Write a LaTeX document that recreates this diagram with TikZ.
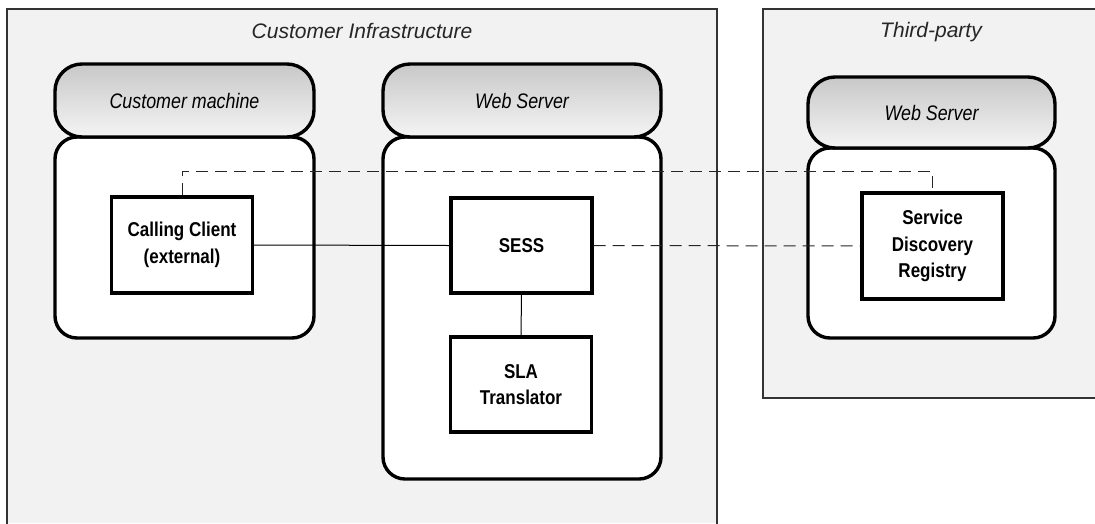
\documentclass[tikz,border=0pt]{standalone}
\usepackage{fontspec}
\setmainfont{Liberation Sans}
\newfontfamily\narrowfont[FakeStretch=0.85]{Liberation Sans}
\usetikzlibrary{calc}
\definecolor{zonebg}{HTML}{F2F2F2}
\definecolor{zoneline}{HTML}{333333}
\definecolor{pilltop}{HTML}{C8C8C8}
\definecolor{pillbot}{HTML}{F4F4F4}
\tikzset{
  zonetitle/.style={font=\itshape\fontsize{21}{24}\selectfont, text=black!85, inner sep=0pt},
  pill/.style={draw=black, line width=3.4pt, rounded corners=27pt, top color=pilltop, bottom color=pillbot,
    font=\narrowfont\itshape\fontsize{21}{24}\selectfont, inner sep=0pt},
  hostbody/.style={draw=black, line width=3.4pt, rounded corners=22pt, fill=white, inner sep=0pt},
  compbox/.style={draw=black, line width=3.2pt, fill=white, align=center, inner sep=0pt,
    minimum width=141pt, font=\narrowfont\bfseries\fontsize{20}{26.5}\selectfont},
  solidlink/.style={line width=1pt, draw=black},
  dashlink/.style={line width=1pt, draw=black!85, dash pattern=on 12pt off 7pt},
}
\begin{document}
\begin{tikzpicture}[x=1pt,y=-1pt]
\useasboundingbox (0,0) rectangle (1095,523);
\fill[white] (0,0) rectangle (1095,523);
% zones
\fill[zonebg] (7,9) rectangle (717,523);
\draw[zoneline, line width=1.6pt] (7,526) -- (7,9) -- (717,9) -- (717,526);
\node[zonetitle] (citl) at (362,31) {Customer Infrastructure};
\fill[zonebg] (763,9) rectangle (1095,398);
\draw[zoneline, line width=1.6pt] (1098,9) -- (763,9) -- (763,398) -- (1098,398);
\node[zonetitle] (tptl) at (931,32) {Third-party};
% hosts
\node[hostbody, minimum width=259pt, minimum height=201pt] (cmbody) at (184.5,237.5) {};
\node[pill, minimum width=259pt, minimum height=73pt] (cmpill) at (184.5,100.5) {Customer machine};
\node[hostbody, minimum width=278pt, minimum height=342pt] (wsbody) at (522,308) {};
\node[pill, minimum width=278pt, minimum height=73pt] (wspill) at (522,100.5) {Web Server};
\node[hostbody, minimum width=247pt, minimum height=190pt] (tpbody) at (931.5,243) {};
\node[pill, minimum width=247pt, minimum height=71pt] (tppill) at (931.5,112.5) {Web Server};
% components
\node[compbox, minimum height=96pt] (cc) at (182,245) {Calling Client\\(external)};
\node[compbox, minimum height=95pt] (sess) at (521.5,245.5) {SESS};
\node[compbox, minimum height=95pt] (sla) at (521,384.5) {SLA\\Translator};
\node[compbox, minimum height=106pt] (sdr) at (932.5,246) {Service\\Discovery\\Registry};
% links
\draw[solidlink] (cc.east) -- (sess.west);
\draw[solidlink] (sess.south) -- (sla.north);
\draw[dashlink] (sess.east) -- (sdr.west);
\draw[dashlink] (cc.north) -- ++(0,-24) -| (sdr.north);
\end{tikzpicture}
\end{document}
